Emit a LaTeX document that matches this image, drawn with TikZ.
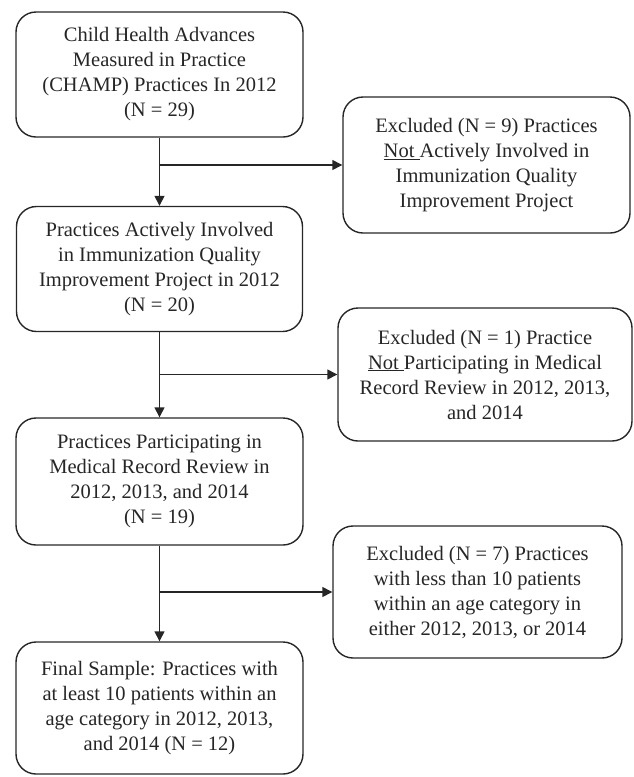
\documentclass[tikz,border=0pt]{standalone}
\usepackage{fontspec}
\setmainfont{Liberation Serif}
\usetikzlibrary{arrows.meta}
\begin{document}
\begin{tikzpicture}[x=1pt,y=-1pt,
  box/.style={draw=black!85, line width=1.4pt, rounded corners=20pt, align=center,
    inner sep=0pt, font=\fontsize{20.5}{25}\selectfont, text=black!85},
  arr/.style={draw=black!85, line width=1.4pt, -{Triangle[length=10pt,width=10pt]}}]
\useasboundingbox (0,0) rectangle (634,777);
\node[box, minimum width=287pt, minimum height=125pt] (b1) at (159.5,74.5)
  {Child Health Advances\\Measured in Practice\\(CHAMP) Practices In 2012\\(N = 29)};
\node[box, minimum width=287pt, minimum height=136pt] (e1) at (486.5,165)
  {Excluded (N = 9) Practices\\\underline{Not\ }Actively Involved in\\Immunization Quality\\Improvement Project};
\node[box, minimum width=286pt, minimum height=125pt] (b2) at (159.5,269)
  {Practices Actively Involved\\in Immunization Quality\\Improvement Project in 2012\\(N = 20)};
\node[box, minimum width=294pt, minimum height=133pt] (e2) at (485,374.5)
  {Excluded (N = 1) Practice\\\underline{Not\ }Participating in Medical\\Record Review in 2012, 2013,\\and 2014};
\node[box, minimum width=287pt, minimum height=127pt] (b3) at (159.5,481.5)
  {Practices Participating in\\Medical Record Review in\\2012, 2013, and 2014\\(N = 19)};
\node[box, minimum width=289pt, minimum height=132pt] (e3) at (477.5,592)
  {Excluded (N = 7) Practices\\with less than 10 patients\\within an age category in\\either 2012, 2013, or 2014};
\node[box, minimum width=287pt, minimum height=132pt] (b4) at (159.5,708)
  {Final Sample: Practices with\\at least 10 patients within an\\age category in 2012, 2013,\\and 2014 (N = 12)};
\draw[arr] (b1) -- (b2);
\draw[arr] (b2) -- (b3);
\draw[arr] (b3) -- (b4);
\coordinate (j1) at (b1.south |- e1.west);
\coordinate (j2) at (b2.south |- e2.west);
\coordinate (j3) at (b3.south |- e3.west);
\draw[arr] (j1) -- (e1.west);
\draw[arr] (j2) -- (e2.west);
\draw[arr] (j3) -- (e3.west);
\end{tikzpicture}
\end{document}
